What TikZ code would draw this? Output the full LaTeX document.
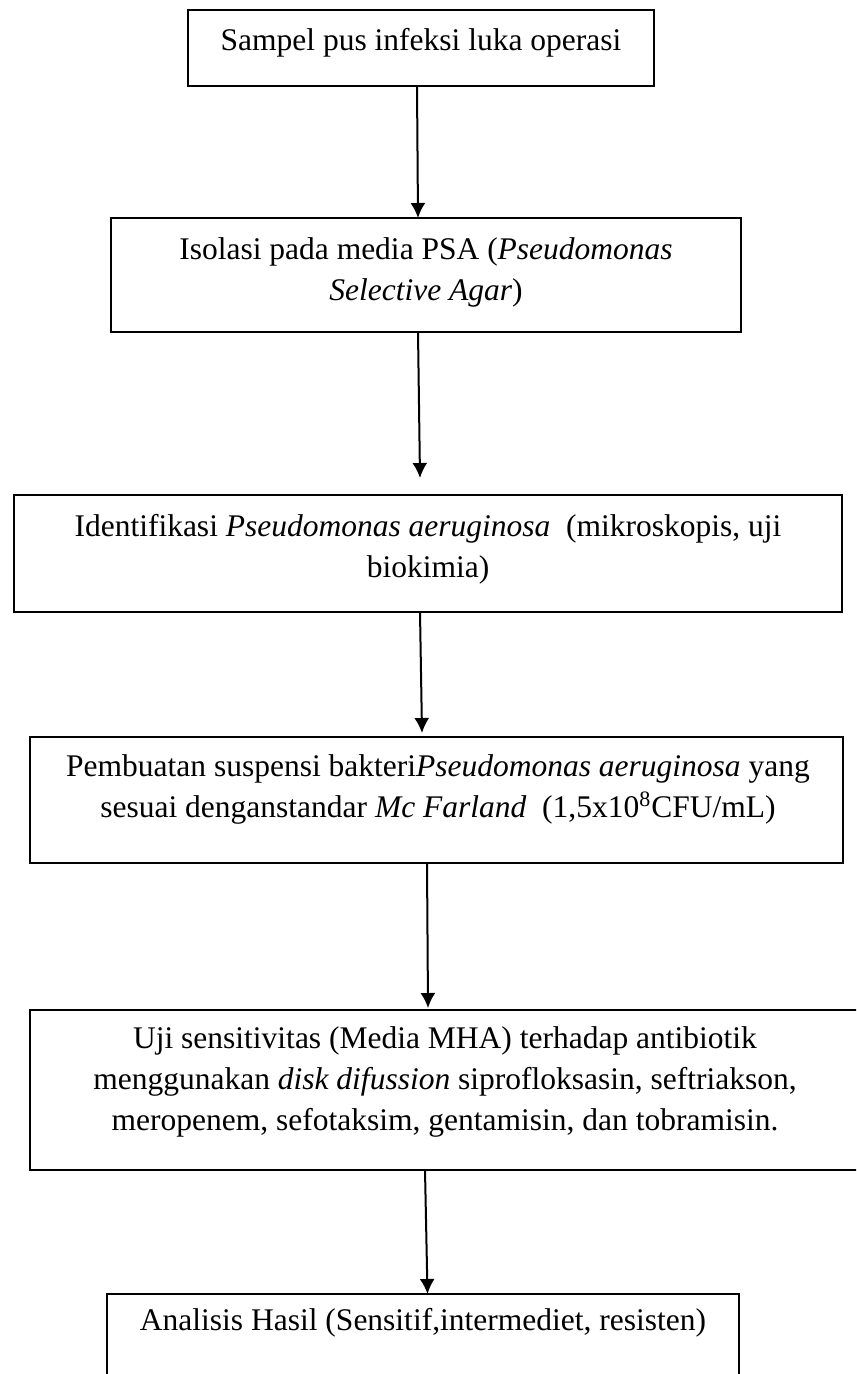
\documentclass[tikz,border=0pt]{standalone}
\usepackage{fontspec}
\setmainfont{Liberation Serif}
\usetikzlibrary{arrows.meta}

\tikzset{
  box/.style={draw,line width=1pt,inner sep=0pt,outer sep=0pt},
  txt/.style={align=center,anchor=base,inner sep=0pt,
    font=\fontsize{15.75}{20.5}\selectfont},
  arr/.style={-{Latex[length=7.5pt,width=7.5pt]},line width=1pt}
}

\begin{document}
\begin{tikzpicture}[x=0.5pt,y=-0.5pt]

\useasboundingbox (0,0) rectangle (856,1374);
\clip (0,0) rectangle (856,1374);

% Sampel
\node[box,minimum width=233pt,minimum height=38pt] (b1) at (421,48) {};
\node[txt] (t1) at (421,51) {Sampel pus infeksi luka operasi};

% Isolasi
\node[box,minimum width=315pt,minimum height=57pt] (b2) at (426,275) {};
\node[txt] (t2) at (426,300)
{Isolasi pada media PSA (\textit{Pseudomonas}\\ \textit{Selective Agar})};

% Identifikasi
\node[box,minimum width=414pt,minimum height=58.5pt] (b3) at (428,553.5) {};
\node[txt] (t3) at (428,577)
{Identifikasi \textit{Pseudomonas aeruginosa}\ \ (mikroskopis, uji\\ biokimia)};

% Suspensi
\node[box,minimum width=406.5pt,minimum height=63pt] (b4) at (436.5,800) {};
\node[txt] (t4) at (438,817)
{Pembuatan suspensi bakteri\textit{Pseudomonas aeruginosa} yang\\
sesuai denganstandar \textit{Mc Farland}\ \ (1,5x10\textsuperscript{8}CFU/mL)};

% Uji sensitivitas
\node[box,minimum width=420pt,minimum height=80pt] (b5) at (450,1090) {};
\node[txt] (t5) at (445,1130)
{Uji sensitivitas (Media MHA) terhadap antibiotik\\
menggunakan \textit{disk difussion} siprofloksasin, seftriakson,\\
meropenem, sefotaksim, gentamisin, dan tobramisin.};

% Analisis
\node[box,minimum width=316pt,minimum height=53pt] (b6) at (423,1347) {};
\node[txt] (t6) at (423,1330)
{Analisis Hasil (Sensitif,intermediet, resisten)};

% Panah
\draw[arr] ([xshift=-2pt]b1.south) -- ([xshift=-4pt]b2.north);
\draw[arr] ([xshift=-4pt]b2.south) -- ([xshift=-4pt,yshift=8.5pt]b3.north);
\draw[arr] ([xshift=-4pt]b3.south) -- ([xshift=-7.25pt,yshift=2pt]b4.north);
\draw[arr] ([xshift=-4.75pt]b4.south) -- ([xshift=-11pt,yshift=1pt]b5.north);
\draw[arr] ([xshift=-12.5pt]b5.south) -- ([xshift=2.25pt]b6.north);

\end{tikzpicture}
\end{document}
